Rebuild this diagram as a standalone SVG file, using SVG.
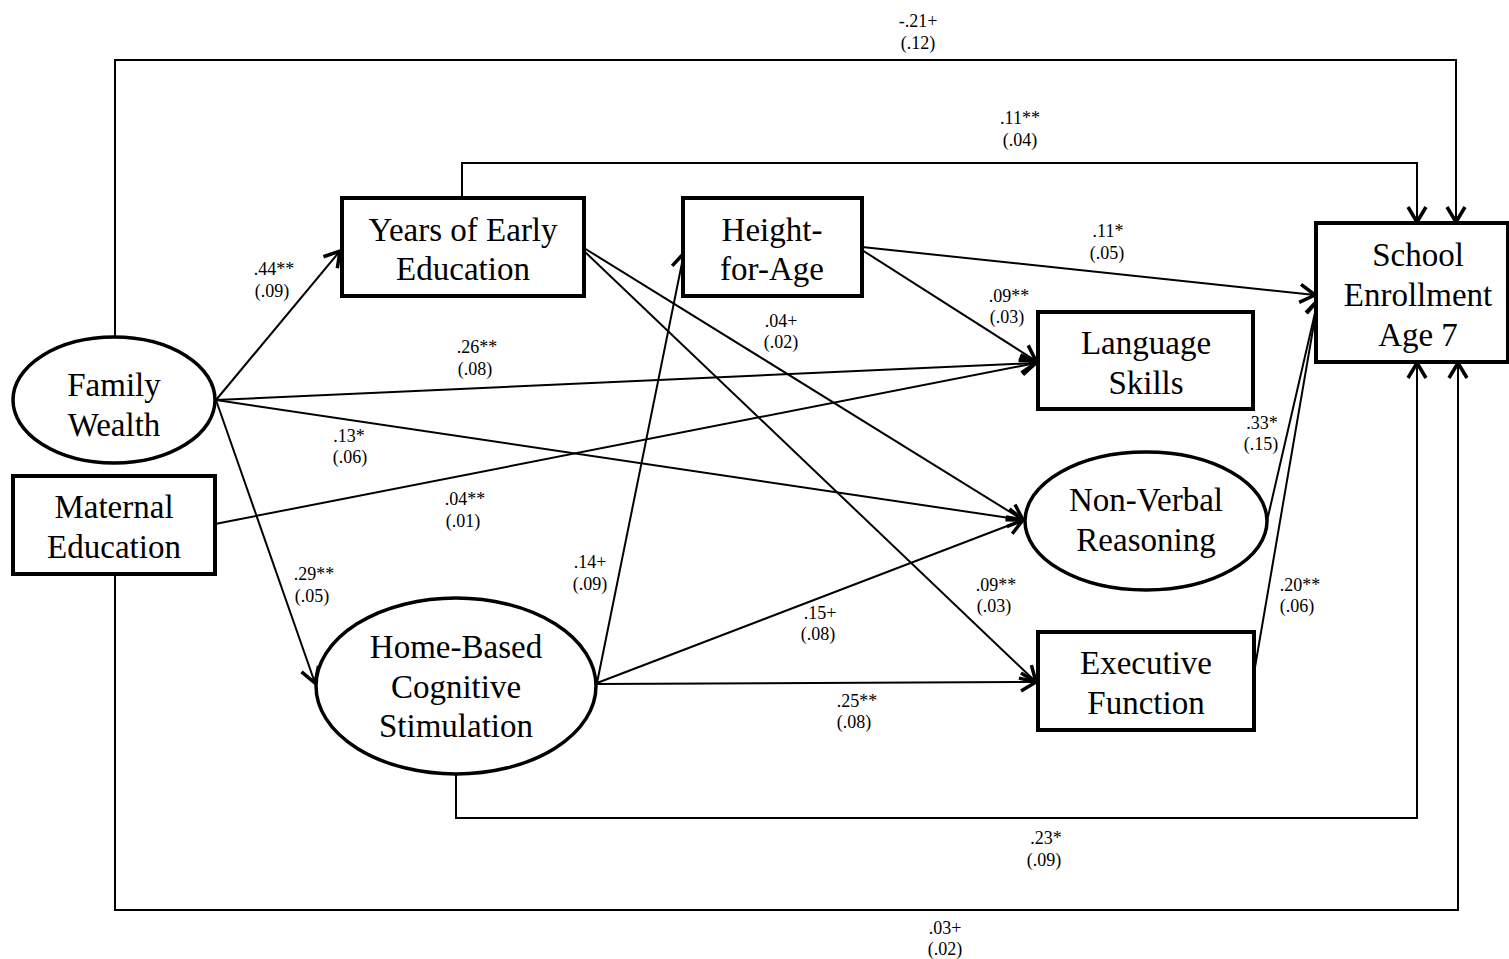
<svg xmlns="http://www.w3.org/2000/svg" width="1509" height="959" viewBox="0 0 1509 959">
<style>
.node{fill:#fff;stroke:#000;stroke-width:4}
.ell{fill:#fff;stroke:#000;stroke-width:3.5}
.nt{font-family:"Liberation Serif","Times New Roman",serif;font-size:33px;fill:#000;text-anchor:middle}
.lb{font-family:"Liberation Serif","Times New Roman",serif;font-size:18px;fill:#000;text-anchor:middle}
.c{fill:none;stroke:#000;stroke-width:2}
</style>
<defs>
<marker id="arr" markerUnits="userSpaceOnUse" viewBox="-20 -13 24 26" markerWidth="24" markerHeight="26" refX="0" refY="0" orient="auto">
<path d="M-15,-9 L0,0 L-15,9" fill="none" stroke="#000" stroke-width="3.5" stroke-linejoin="miter"/>
</marker>
</defs>
<rect width="1509" height="959" fill="#fff"/>
<g id="connectors">
<polyline class="c" points="115,337 115,60 1456,60 1456,222" marker-end="url(#arr)"/>
<polyline class="c" points="462,198 462,163 1417,163 1417,222" marker-end="url(#arr)"/>
<polyline class="c" points="456,774 456,818 1417,818 1417,363" marker-end="url(#arr)"/>
<polyline class="c" points="115,574 115,910 1458,910 1458,363" marker-end="url(#arr)"/>
<line class="c" x1="216" y1="400" x2="340" y2="251" marker-end="url(#arr)"/>
<line class="c" x1="216" y1="400" x2="1036" y2="363" marker-end="url(#arr)"/>
<line class="c" x1="216" y1="400" x2="1023" y2="520" marker-end="url(#arr)"/>
<line class="c" x1="216" y1="400" x2="315" y2="683" marker-end="url(#arr)"/>
<line class="c" x1="215" y1="524" x2="1036" y2="363" marker-end="url(#arr)"/>
<line class="c" x1="584" y1="248" x2="1023" y2="520" marker-end="url(#arr)"/>
<line class="c" x1="584" y1="251" x2="1036" y2="682" marker-end="url(#arr)"/>
<line class="c" x1="862" y1="247" x2="1315" y2="295" marker-end="url(#arr)"/>
<line class="c" x1="862" y1="250" x2="1036" y2="361" marker-end="url(#arr)"/>
<line class="c" x1="597" y1="683" x2="684" y2="253" marker-end="url(#arr)"/>
<line class="c" x1="597" y1="683" x2="1023" y2="520" marker-end="url(#arr)"/>
<line class="c" x1="597" y1="684" x2="1036" y2="682" marker-end="url(#arr)"/>
<line class="c" x1="1267" y1="521" x2="1318" y2="300" marker-end="url(#arr)"/>
<line class="c" x1="1254" y1="673" x2="1318" y2="300" marker-end="url(#arr)"/>
</g>
<g id="labels">
<text class="lb" x="918" y="27">-.21+</text><text class="lb" x="918" y="49">(.12)</text>
<text class="lb" x="1020" y="124">.11**</text><text class="lb" x="1020" y="146">(.04)</text>
<text class="lb" x="274" y="275">.44**</text><text class="lb" x="272" y="297">(.09)</text>
<text class="lb" x="477" y="353">.26**</text><text class="lb" x="475" y="375">(.08)</text>
<text class="lb" x="349" y="442">.13*</text><text class="lb" x="350" y="463">(.06)</text>
<text class="lb" x="465" y="505">.04**</text><text class="lb" x="463" y="527">(.01)</text>
<text class="lb" x="314" y="580">.29**</text><text class="lb" x="312" y="602">(.05)</text>
<text class="lb" x="590" y="568">.14+</text><text class="lb" x="590" y="590">(.09)</text>
<text class="lb" x="781" y="327">.04+</text><text class="lb" x="781" y="348">(.02)</text>
<text class="lb" x="1009" y="302">.09**</text><text class="lb" x="1007" y="323">(.03)</text>
<text class="lb" x="996" y="591">.09**</text><text class="lb" x="994" y="612">(.03)</text>
<text class="lb" x="1108" y="237">.11*</text><text class="lb" x="1107" y="259">(.05)</text>
<text class="lb" x="1262" y="429">.33*</text><text class="lb" x="1261" y="450">(.15)</text>
<text class="lb" x="1300" y="591">.20**</text><text class="lb" x="1297" y="612">(.06)</text>
<text class="lb" x="820" y="619">.15+</text><text class="lb" x="818" y="640">(.08)</text>
<text class="lb" x="857" y="707">.25**</text><text class="lb" x="854" y="728">(.08)</text>
<text class="lb" x="1046" y="844">.23*</text><text class="lb" x="1044" y="866">(.09)</text>
<text class="lb" x="945" y="934">.03+</text><text class="lb" x="945" y="955">(.02)</text>
</g>
<g id="family-wealth">
<ellipse class="ell" cx="114" cy="400" rx="101" ry="63"/>
<text class="nt" x="114" y="396">Family</text><text class="nt" x="114" y="436">Wealth</text>
</g>
<g id="maternal-education">
<rect class="node" x="13" y="476" width="202" height="98"/>
<text class="nt" x="114" y="518">Maternal</text><text class="nt" x="114" y="558">Education</text>
</g>
<g id="years-early-education">
<rect class="node" x="342" y="198" width="242" height="98"/>
<text class="nt" x="463" y="241">Years of Early</text><text class="nt" x="463" y="280">Education</text>
</g>
<g id="height-for-age">
<rect class="node" x="683" y="198" width="179" height="98"/>
<text class="nt" x="772" y="241">Height-</text><text class="nt" x="772" y="280">for-Age</text>
</g>
<g id="home-based">
<ellipse class="ell" cx="456" cy="686" rx="140" ry="88"/>
<text class="nt" x="456" y="658">Home-Based</text><text class="nt" x="456" y="698">Cognitive</text><text class="nt" x="456" y="737">Stimulation</text>
</g>
<g id="language-skills">
<rect class="node" x="1038" y="312" width="215" height="97"/>
<text class="nt" x="1146" y="354">Language</text><text class="nt" x="1146" y="394">Skills</text>
</g>
<g id="non-verbal-reasoning">
<ellipse class="ell" cx="1146" cy="521" rx="121" ry="69"/>
<text class="nt" x="1146" y="511">Non-Verbal</text><text class="nt" x="1146" y="551">Reasoning</text>
</g>
<g id="executive-function">
<rect class="node" x="1038" y="632" width="216" height="98"/>
<text class="nt" x="1146" y="674">Executive</text><text class="nt" x="1146" y="714">Function</text>
</g>
<g id="school-enrollment">
<rect class="node" x="1316" y="223" width="192" height="139"/>
<text class="nt" x="1418" y="266">School</text><text class="nt" x="1418" y="306">Enrollment</text><text class="nt" x="1418" y="346">Age 7</text>
</g>
</svg>
